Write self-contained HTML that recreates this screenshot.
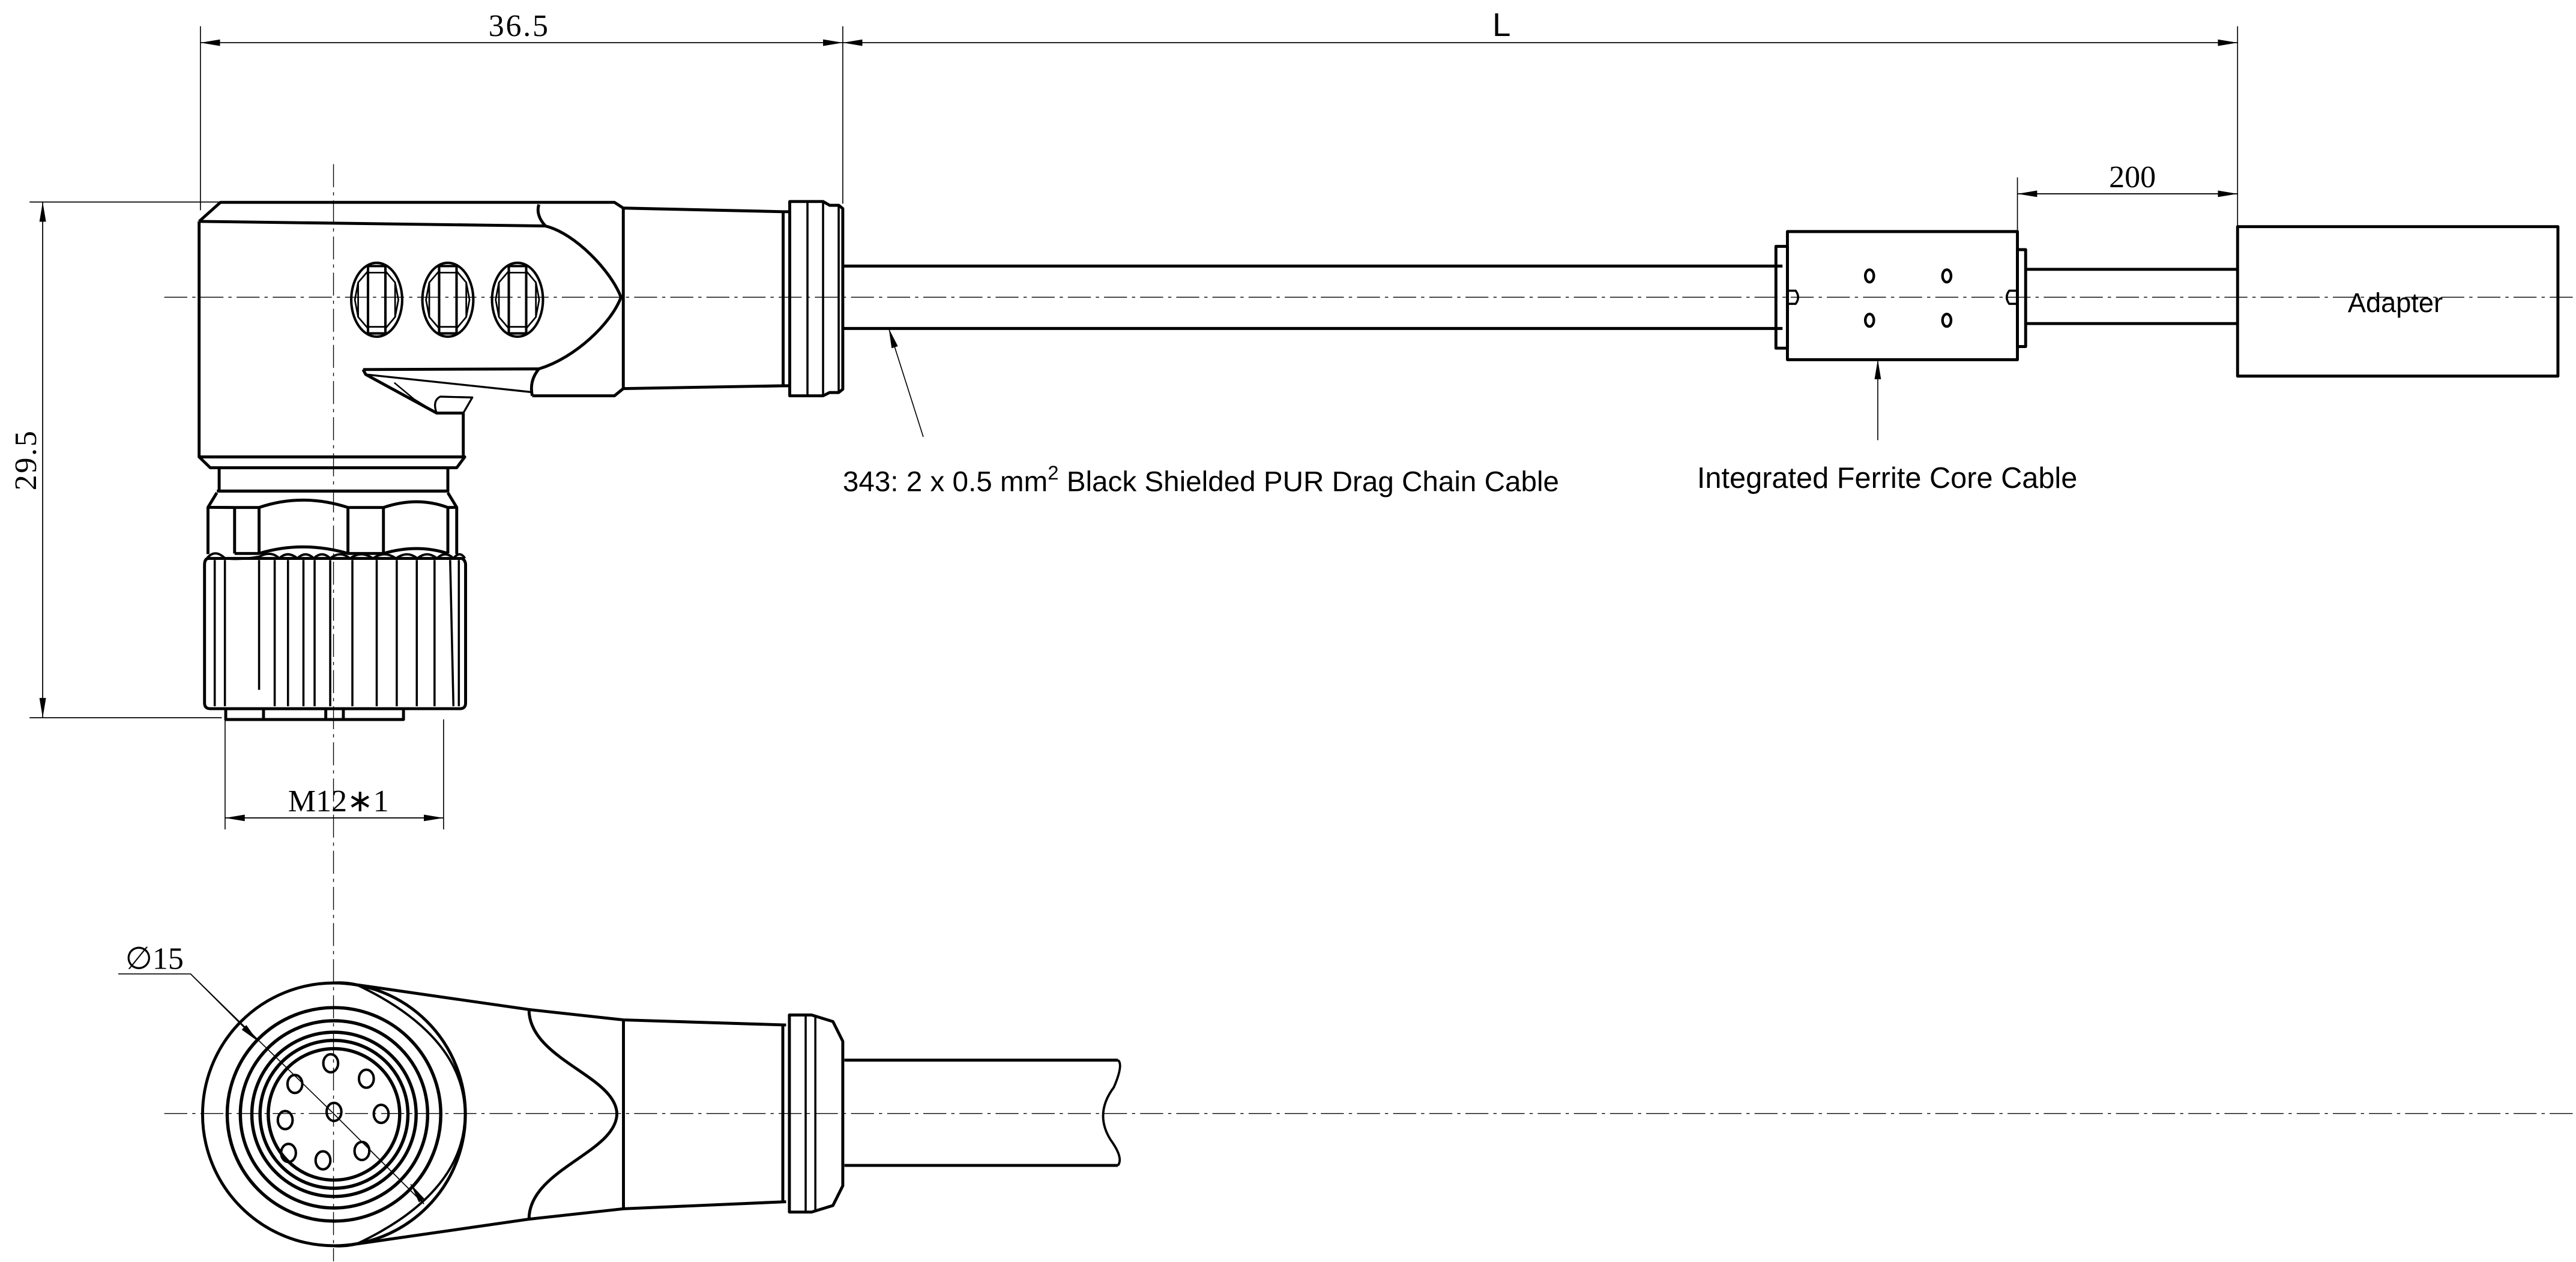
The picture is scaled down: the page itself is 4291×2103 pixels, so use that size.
<!DOCTYPE html>
<html><head><meta charset="utf-8"><style>
html,body{margin:0;padding:0;background:#fff;}
svg{display:block;}
</style></head><body>
<svg width="4291" height="2103" viewBox="0 0 1568 768.4" preserveAspectRatio="none" xmlns="http://www.w3.org/2000/svg">
<defs>
<marker id="a" viewBox="0 0 12 4" refX="12" refY="2" markerWidth="12" markerHeight="4" orient="auto" markerUnits="userSpaceOnUse"><path d="M0,0 L12,2 L0,4 z" fill="#000"/></marker>
</defs>
<rect width="1568" height="768.4" fill="#fff"/>
<!-- centerlines -->
<g stroke="#000" stroke-width="0.5" fill="none" stroke-dasharray="14 3 2 3">
<line x1="203" y1="100" x2="203" y2="768"/>
<line x1="100" y1="181" x2="1568" y2="181"/>
<line x1="100" y1="678" x2="1568" y2="678"/>
</g>
<!-- dimension lines -->
<g stroke="#000" stroke-width="0.6" fill="none">
<line x1="122" y1="16" x2="122" y2="128"/>
<line x1="513" y1="16" x2="513" y2="124"/>
<line x1="1362" y1="16" x2="1362" y2="138"/>
<line x1="1228" y1="108" x2="1228" y2="150"/>
<line x1="513" y1="26" x2="1362" y2="26" marker-end="url(#a)"/>
<line x1="513" y1="26" x2="122" y2="26" marker-end="url(#a)"/>
<line x1="122" y1="26" x2="513" y2="26" marker-end="url(#a)"/>
<line x1="1362" y1="26" x2="513" y2="26" marker-end="url(#a)"/>
<line x1="1228" y1="118" x2="1362" y2="118" marker-end="url(#a)"/>
<line x1="1362" y1="118" x2="1228" y2="118" marker-end="url(#a)"/>
<line x1="18" y1="123" x2="135" y2="123"/>
<line x1="18" y1="437" x2="135" y2="437"/>
<line x1="26" y1="123" x2="26" y2="437" marker-end="url(#a)"/>
<line x1="26" y1="437" x2="26" y2="123" marker-end="url(#a)"/>
<line x1="137" y1="438" x2="137" y2="505"/>
<line x1="270" y1="438" x2="270" y2="505"/>
<line x1="137" y1="498" x2="270" y2="498" marker-end="url(#a)"/>
<line x1="270" y1="498" x2="137" y2="498" marker-end="url(#a)"/>
<!-- leaders -->
<line x1="562" y1="266" x2="541" y2="200" marker-end="url(#a)"/>
<line x1="1143" y1="268" x2="1143" y2="219" marker-end="url(#a)"/>
<polyline points="72,593 116,593 203,678"/>
<line x1="116" y1="593" x2="157" y2="634" marker-end="url(#a)"/>
<line x1="203" y1="678" x2="258" y2="733"/>
<line x1="258" y1="733" x2="250" y2="721" marker-end="url(#a)"/>
</g>
<!-- dimension text -->
<g font-family="Liberation Serif, serif" font-size="19" fill="#000">
<text x="316" y="22" text-anchor="middle" letter-spacing="1">36.5</text>
<text x="1298" y="114" text-anchor="middle">200</text>
<text x="206" y="494" text-anchor="middle">M12∗1</text>
<text x="94" y="590" text-anchor="middle">∅15</text>
<text transform="translate(22,280) rotate(-90)" text-anchor="middle" letter-spacing="1">29.5</text>
</g>
<text x="914" y="22" font-family="Liberation Sans, sans-serif" font-size="20" text-anchor="middle">L</text>
<g font-family="Liberation Sans, sans-serif" font-size="17.4" fill="#000">
<text x="513" y="299">343: 2 x 0.5 mm<tspan dy="-7" font-size="12">2</tspan><tspan dy="7"> Black Shielded PUR Drag Chain Cable</tspan></text>
<text x="1033" y="297" font-size="17.8">Integrated Ferrite Core Cable</text>
<text x="1458" y="190" text-anchor="middle" font-size="16.5">Adapter</text>
</g>
<!-- connector side view -->
<g stroke="#000" stroke-width="1.8" fill="none" stroke-linejoin="round">
<path d="M121.2,134.8 L134.2,123.2 L374,123.2 L379.4,126.7 L379.4,236.6 L374,241 L324,241"/>
<path d="M121.2,134.8 L332,137.6"/>
<path d="M328,124.5 Q326,131 332,137.6"/>
<path d="M332,137.6 C350,142 372,165 378,181 C372,197 350,218 328,224.6"/>
<path d="M221,225 L328,224.6 Q322,232 324,241"/>
<path d="M221,225 L222.6,228 L265.8,251.5 L282,251.5 L282,278.2"/>
<path d="M222.6,228 L324,238.8" stroke-width="1.2"/>
<path d="M240,233 L252,243 L265.8,251.5" stroke-width="0.9"/>
<path d="M265.8,251.5 Q263,244 268,241.5 L287.5,242 L282,251.5" stroke-width="1.2"/>
<path d="M121.2,134.8 L121.2,278.2 L128,284.8 L278,284.8 L282.9,278.2 L121.2,278.2"/>
<rect x="133.4" y="284.8" width="139.2" height="14.2"/>
<path d="M132,300 L126.6,308.9 L126.6,337.4 M272.6,300 L278,308.9 L278,337.4 M132,299 L272.6,299"/>
<path d="M142.8,309 L142.8,337 M157.7,309 L157.7,337 M211.8,309 L211.8,337 M233.4,309 L233.4,337 M272.6,309 L272.6,337"/>
<path d="M126.6,308.9 L142.8,309 M142.8,309 L157.7,309 Q184,300 211.8,309 L233.4,309 Q254,302 272.6,309 L278,308.9"/>
<path d="M142.8,337 L157.7,337 Q184,329 211.8,337 L233.4,337 Q254,331 272.6,337"/>
<!-- knurl -->
<path d="M127,340 L281,340 Q283.4,341 283.4,344 L283.4,428 Q283.4,431.5 280,431.5 L128,431.5 Q124.5,431.5 124.5,428 L124.5,344 Q124.5,340 127,340 Z"/>
<path d="M124.5,342 Q130,333 137,340 Q146,341 157.7,339 Q165,335 170,340 Q175,335 181,340 Q186,335 191,340 Q196,335 201,340 Q207,335 213,340 Q220,335 227,340 Q234,335 241,340 Q248,335 254,340 Q260,335 266,340 Q271,335 276,340 Q280,335 283,340" stroke-width="1.4"/>
<g stroke-width="1.3">
<path d="M130.7,341 V430 M136.9,341 V430 M157.7,341 V420 M167.2,341 V430 M175.3,341 V430 M184.7,341 V430 M191.5,341 V430 M201,341 V430 M214.5,341 V430 M229.3,341 V430 M241.5,341 V430 M253.7,341 V430 M264.5,341 V430 M274,341 L276,430 M279.3,341 V430"/>
</g>
<rect x="137.4" y="431.5" width="108.2" height="6.6"/>
<path d="M160.4,431.5 V438 M198.3,431.5 V438 M209,431.5 V438"/>
<!-- overmold neck -->
<path d="M379.4,126.7 L476.7,128.9 L476.7,234.9 L379.4,236.6"/>
<path d="M476.7,128.9 L480.7,128.9 M476.7,234.9 L480.7,234.9"/>
<path d="M480.7,241 L480.7,122.7 L501,122.7 L505,125 L510.5,125 L513,127 L513,237 L510.5,239 L505,239 L501,241 Z"/>
<path d="M491.5,123 V241 M501,123 V241 M510.5,125 V239" stroke-width="1.3"/>
<!-- ovals -->
<g stroke-width="1.5">
<g id="ov">
<ellipse cx="229.3" cy="182.5" rx="15.5" ry="22.5"/>
<rect x="224" y="162" width="10.6" height="41"/>
<path d="M224,165 L218,172 L216,182.5 L218,193 L224,200 M234.6,165 L240.5,172 L242.5,182.5 L240.5,193 L234.6,200 M218,172 V193 M240.5,172 V193 M224,166 H234.6 M224,199 H234.6" stroke-width="1"/>
</g>
<use href="#ov" x="43.3"/>
<use href="#ov" x="85.7"/>
</g>
<!-- cable -->
<path d="M513,162 H1085 M513,200 H1085"/>
<!-- ferrite -->
<rect x="1088" y="141" width="140" height="78"/>
<rect x="1081" y="150" width="7" height="62"/>
<rect x="1228" y="152" width="5" height="59"/>
<path d="M1088,177 H1093 Q1096,181 1093,185 H1088 M1228,177 H1223 Q1220,181 1223,185 H1228" stroke-width="1.3"/>
<g stroke-width="1.6"><ellipse cx="1138" cy="168" rx="2.6" ry="3.8"/><ellipse cx="1185" cy="168" rx="2.6" ry="3.8"/><ellipse cx="1138" cy="195" rx="2.6" ry="3.8"/><ellipse cx="1185" cy="195" rx="2.6" ry="3.8"/></g>
<path d="M1233,164 H1362 M1233,197 H1362"/>
<rect x="1362" y="138" width="195" height="91"/>
</g>
<!-- bottom view -->
<g stroke="#000" stroke-width="1.8" fill="none" stroke-linejoin="round">
<circle cx="203.3" cy="678.5" r="80"/>
<circle cx="203.3" cy="678.5" r="65" stroke-width="2"/>
<circle cx="203.3" cy="678.5" r="57" stroke-width="2"/>
<circle cx="203.3" cy="678.5" r="50" stroke-width="2"/>
<circle cx="203.3" cy="678.5" r="45" stroke-width="2"/>
<circle cx="203.3" cy="678.5" r="40" stroke-width="2"/>
<g stroke-width="1.5">
<ellipse cx="203.3" cy="677" rx="4.5" ry="5.5"/>
<ellipse cx="201.3" cy="647.4" rx="4.5" ry="5.5"/>
<ellipse cx="223" cy="656.8" rx="4.5" ry="5.5"/>
<ellipse cx="179.5" cy="660" rx="4.5" ry="5.5"/>
<ellipse cx="232" cy="678.2" rx="4.5" ry="5.5"/>
<ellipse cx="173.6" cy="682" rx="4.5" ry="5.5"/>
<ellipse cx="220.3" cy="700.8" rx="4.5" ry="5.5"/>
<ellipse cx="196.6" cy="706.5" rx="4.5" ry="5.5"/>
<ellipse cx="175.6" cy="702" rx="4.5" ry="5.5"/>
</g>
<path d="M203.3,598.5 Q210,598 217.1,599.6 L322,614.7 L379.5,621 L478.5,624.1"/>
<path d="M203.3,758.5 Q210,759 217.1,757.4 L322,742.3 L379.5,736 L478.5,731.7"/>
<path d="M217.1,599.6 C250,615 283,640 283,678.5 C283,717 250,742 217.1,757.4" stroke-width="1.4"/>
<path d="M322,614.7 C322,645 375,655 375.5,678.2 C375,702 322,712 322,742.3"/>
<path d="M379.5,621 V736"/>
<path d="M476.5,624.1 V731.7"/>
<path d="M480.5,618 V738 L494,738 L507,734 L513,722 L513,634 L507,622 L494,618 Z"/>
<path d="M490.4,618 V738 M496.3,618 V738" stroke-width="1.3"/>
<path d="M514,645.5 H680.5 M514,709.6 H680.5"/>
<path d="M680.5,645.5 Q684,648 678,662 Q666,678 676,694 Q684,705 680.5,709.6" stroke-width="1.4"/>
</g>
</svg>
</body></html>
